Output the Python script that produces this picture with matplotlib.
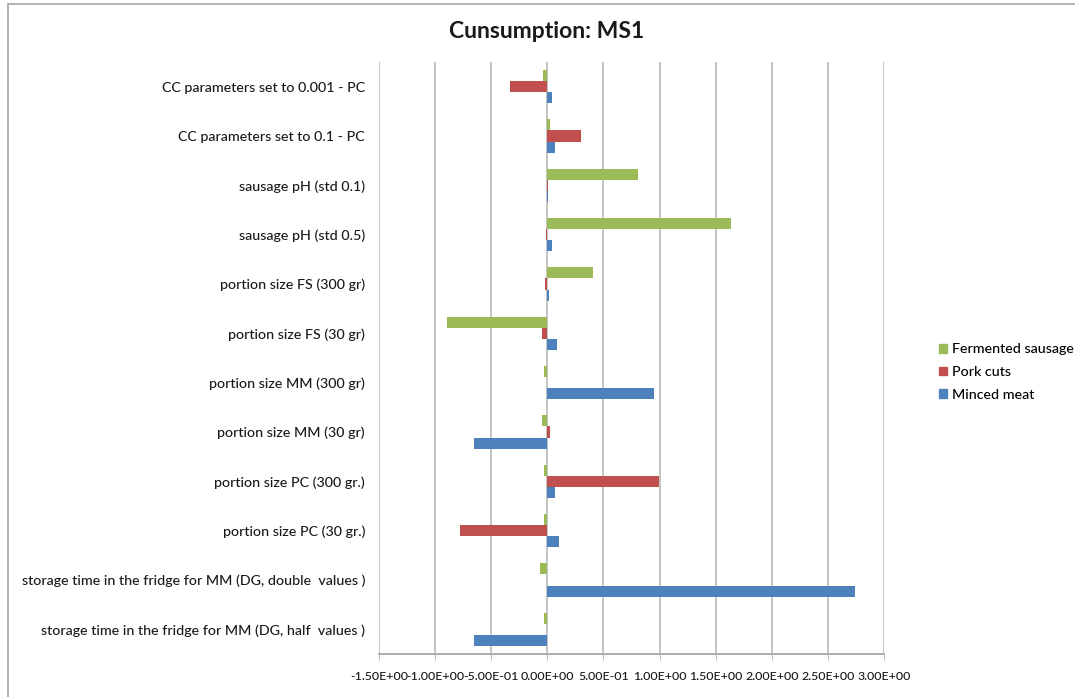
import matplotlib
matplotlib.use("Agg")
import matplotlib.pyplot as plt
import numpy as np
from matplotlib.ticker import FuncFormatter, FixedLocator
from matplotlib.patches import Rectangle

categories = [
    "CC parameters set to 0.001 - PC",
    "CC parameters set to 0.1 - PC",
    "sausage pH (std 0.1)",
    "sausage pH (std 0.5)",
    "portion size FS (300 gr)",
    "portion size FS (30 gr)",
    "portion size MM (300 gr)",
    "portion size MM (30 gr)",
    "portion size PC (300 gr.)",
    "portion size PC (30 gr.)",
    "storage time in the fridge for MM (DG, double  values )",
    "storage time in the fridge for MM (DG, half  values )",
]
fermented_sausage = [-0.035, 0.02, 0.81, 1.64, 0.41, -0.895, -0.027, -0.045, -0.033, -0.027, -0.068, -0.033]
pork_cuts = [-0.33, 0.30, 0.01, -0.012, -0.024, -0.045, 0.0, 0.027, 0.994, -0.78, 0.0, 0.0]
minced_meat = [0.042, 0.065, 0.01, 0.04, 0.012, 0.087, 0.952, -0.65, 0.068, 0.10, 2.74, -0.65]
series_names = ["Fermented sausage", "Pork cuts", "Minced meat"]
colors = ["#9BBB59", "#C0504D", "#4F81BD"]
xticks = [-1.5, -1.0, -0.5, 0.0, 0.5, 1.0, 1.5, 2.0, 2.5, 3.0]

plt.rcParams['font.family'] = ['Lato', 'DejaVu Sans']

fig = plt.figure(figsize=(10.75, 6.97), dpi=100)
W, H = 1075, 697
left, right, top, bottom = 379, 884, 62, 654
ax = fig.add_axes([left / W, 1 - bottom / H, (right - left) / W, (bottom - top) / H])

n = len(categories)
y = np.arange(n)
bh = 0.223
data = [fermented_sausage, pork_cuts, minced_meat]
offsets = [-bh, 0, bh]
for vals, off, c, name in zip(data, offsets, colors, series_names):
    ax.barh(y + off, vals, height=bh, color=c, label=name, zorder=3)

ax.set_ylim(n - 0.5, -0.5)
ax.set_xlim(-1.5, 3.0)
ax.xaxis.set_major_locator(FixedLocator(xticks))
ax.xaxis.set_major_formatter(FuncFormatter(lambda v, p: ("%.2E" % v).replace("\u2212", "-")))
ax.set_yticks(y)
ax.set_yticklabels(categories, fontsize=10.3, color="#1a1a1a", fontweight='medium')
ax.tick_params(axis='y', length=0, pad=10)
ax.tick_params(axis='x', length=4, color="#BFBFBF", labelsize=8.9, labelcolor="#1a1a1a", pad=8)
for lbl in ax.get_xticklabels():
    lbl.set_fontweight('medium')
ax.grid(axis='x', color="#BFBFBF", linewidth=1.3, zorder=0)
for s in ['top', 'left', 'right']:
    ax.spines[s].set_visible(False)
ax.spines['bottom'].set_color("#A6A6A6")
ax.spines['bottom'].set_linewidth(1.3)

fig.text(547 / W, 1 - 31 / H, "Cunsumption: MS1", ha='center', va='center',
         fontsize=16.5, fontweight='bold', color="#1a1a1a")

handles = [Rectangle((0, 0), 1, 1, color=c) for c in colors]
leg = fig.legend(handles, series_names, loc='center left', bbox_to_anchor=(933 / W, 1 - 372 / H),
                 frameon=False, fontsize=10.3, handlelength=0.55, handleheight=0.55,
                 handletextpad=0.4, labelspacing=0.75, borderaxespad=0)
for t in leg.get_texts():
    t.set_fontweight('medium')

fig.patches.append(Rectangle((8 / W, -0.1), 1.2, 1 - 4 / H + 0.1, transform=fig.transFigure,
                             fill=False, edgecolor="#A6A6A6", linewidth=1.2))

fig.savefig("out.png", dpi=100)
